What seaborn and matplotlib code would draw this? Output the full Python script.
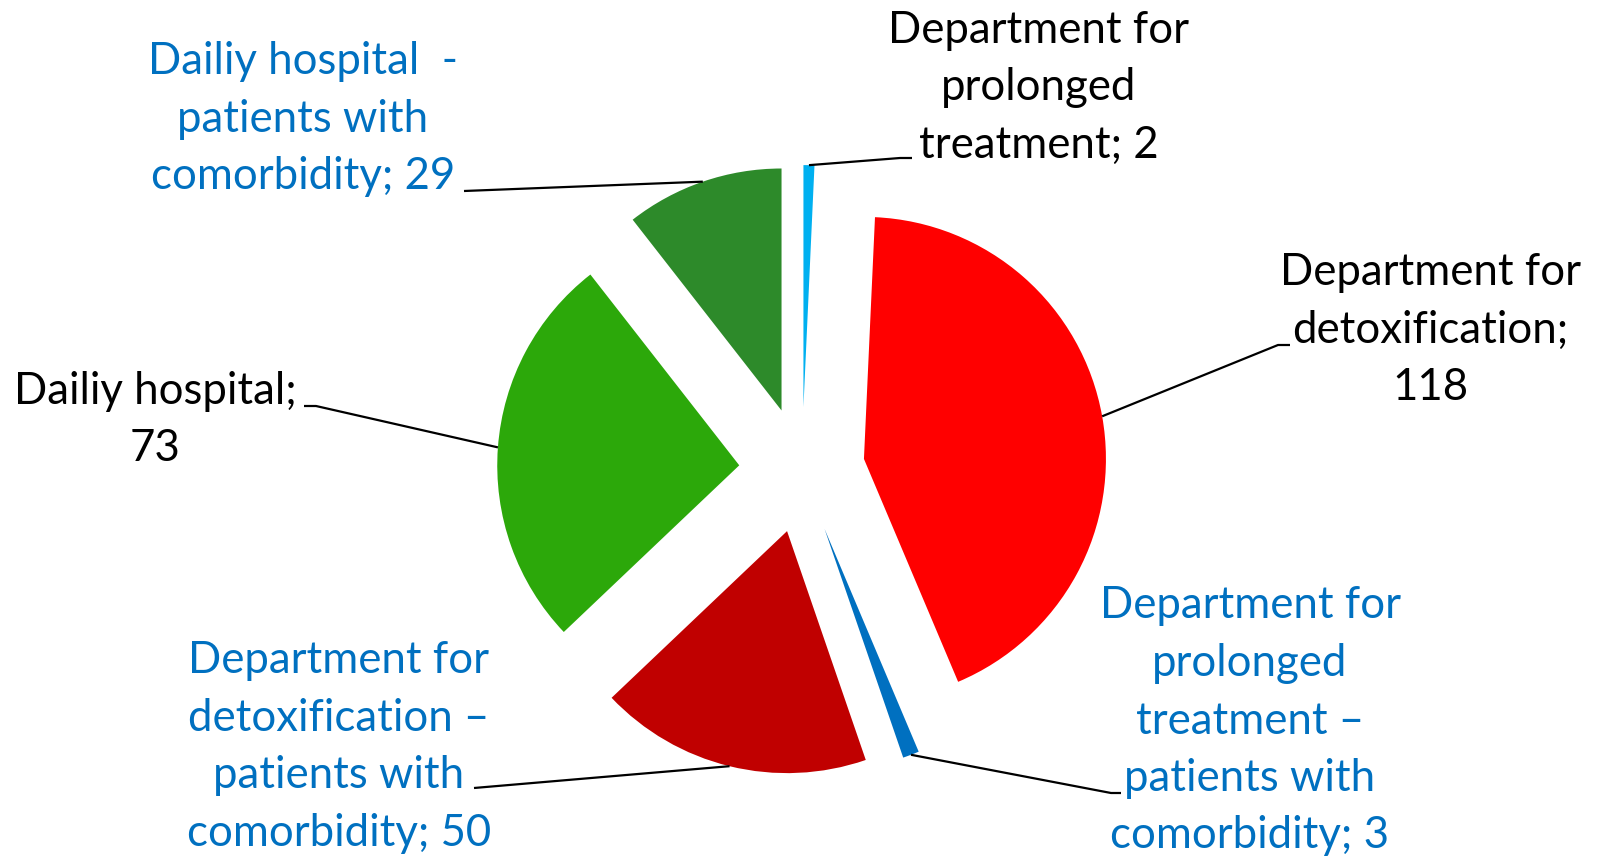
import numpy as np
import matplotlib
matplotlib.use("Agg")
import matplotlib.pyplot as plt
import seaborn as sns

# ---- data ----
categories = [
    "Department for\nprolonged\ntreatment",
    "Department for\ndetoxification",
    "Department for\nprolonged\ntreatment \u2013\npatients with\ncomorbidity",
    "Department for\ndetoxification \u2013\npatients with\ncomorbidity",
    "Dailiy hospital",
    "Dailiy hospital  -\npatients with\ncomorbidity",
]
values = [2, 118, 3, 50, 73, 29]
separators = ["; ", ";\n", "; ", "; ", ";\n", "; "]
slice_colors = ["#00B0F0", "#FF0000", "#0070C0", "#C00000", "#2CA80A", "#2D8A2A"]
label_colors = ["black", "black", "#0070C0", "#0070C0", "black", "#0070C0"]

# ---- layout (image pixel coords, y down) ----
W, H = 1598, 861
center_img = (802, 470)
radius = 242
explode_frac = 0.26
label_pos = [(1039, 88), (1430, 330), (1250, 721), (339, 747), (155, 420), (303, 119)]
leader_start = [(912, 158), (1290, 345), (1121, 793), (474, 788), (304, 406), (464, 191)]
leader_knee = [(900, 158), (1278, 345), (1111, 793), (474, 788), (316, 406), (464, 191)]

sns.set_theme(style="white")
plt.rcParams["font.family"] = ["Lato", "DejaVu Sans"]

fig = plt.figure(figsize=(W / 100, H / 100), dpi=100)
ax = fig.add_axes([0, 0, 1, 1])

def fy(y):
    return H - y

wedges, _ = ax.pie(
    values,
    colors=slice_colors,
    startangle=90,
    counterclock=False,
    radius=radius,
    center=(center_img[0], fy(center_img[1])),
    explode=[explode_frac * radius] * len(values),
    wedgeprops=dict(linewidth=0),
)

for i, (w, cat, v) in enumerate(zip(wedges, categories, values)):
    tm = np.deg2rad(0.5 * (w.theta1 + w.theta2))
    cx, cy = w.center
    px = cx + w.r * np.cos(tm)
    py = cy + w.r * np.sin(tm)
    sx, sy = leader_start[i]
    kx, ky = leader_knee[i]
    ax.plot([sx, kx, px], [fy(sy), fy(ky), py], color="black", lw=1.6,
            solid_capstyle="butt", zorder=3)
    lx, ly = label_pos[i]
    ax.text(lx, fy(ly), f"{cat}{separators[i]}{v}", ha="center", va="center",
            multialignment="center", fontsize=31.5, color=label_colors[i],
            linespacing=1.5)

ax.set_xlim(0, W)
ax.set_ylim(0, H)
ax.set_aspect("equal")
ax.axis("off")
fig.savefig("out.png", dpi=100, facecolor="white")
